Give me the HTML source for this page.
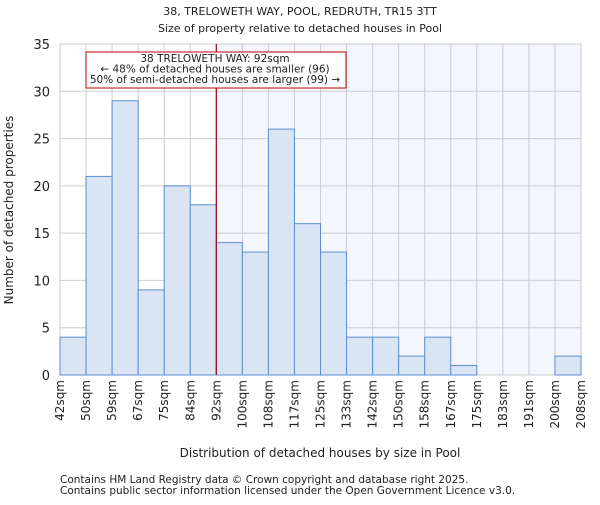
<!DOCTYPE html>
<html><head><meta charset="utf-8"><style>
body{margin:0;background:#fff}
svg text{font-family:"DejaVu Sans","Liberation Sans",sans-serif;fill:#222}
</style></head><body>
<svg id="chart" width="600" height="500" xmlns="http://www.w3.org/2000/svg">
<text x="300" y="15" text-anchor="middle" font-size="11">38, TRELOWETH WAY, POOL, REDRUTH, TR15 3TT</text>
<text x="300" y="32" text-anchor="middle" font-size="11">Size of property relative to detached houses in Pool</text>
<g id="plot"></g>
<text x="320" y="457" text-anchor="middle" font-size="12">Distribution of detached houses by size in Pool</text>
<text transform="translate(13,210) rotate(-90)" text-anchor="middle" font-size="12">Number of detached properties</text>
<text x="60" y="483" font-size="10.5" fill="#444">Contains HM Land Registry data © Crown copyright and database right 2025.</text>
<text x="60" y="494" font-size="10.5" fill="#444">Contains public sector information licensed under the Open Government Licence v3.0.</text>
</svg>
<script>
const categories=["42sqm","50sqm","59sqm","67sqm","75sqm","84sqm","92sqm","100sqm","108sqm","117sqm","125sqm","133sqm","142sqm","150sqm","158sqm","167sqm","175sqm","183sqm","191sqm","200sqm","208sqm"];
const counts=[4,21,29,9,20,18,14,13,26,16,13,4,4,2,4,1,0,0,0,2];
const yTicks=[0,5,10,15,20,25,30,35];
const markerIndex=6;
const X0=60,X1=581,Y0=375,Y1=44,YMAX=35;
const n=counts.length,bw=(X1-X0)/n;
const xs=i=>X0+i*bw, ys=v=>Y0-(v/YMAX)*(Y0-Y1);
const g=document.getElementById('plot');const NS="http://www.w3.org/2000/svg";
function mk(t,a,p){const e=document.createElementNS(NS,t);for(const k in a)e.setAttribute(k,a[k]);(p||g).appendChild(e);return e;}
let e=mk('rect',{x:xs(markerIndex),y:Y1,width:X1-xs(markerIndex),height:Y0-Y1,fill:'#f3f6fd'});


yTicks.forEach(t=>{let l=mk('line',{x1:X0,x2:X1,y1:ys(t),y2:ys(t),stroke:'#cccccc'});


let tx=mk('text',{x:X0-10,y:ys(t)+5,'text-anchor':'end','font-size':'13'});tx.textContent=t;

});
for(let i=0;i<=n;i++){let l=mk('line',{x1:xs(i),x2:xs(i),y1:Y1,y2:Y0,stroke:'#cccccc'});

}
counts.forEach((v,i)=>{if(v<=0)return;let r=mk('rect',{x:xs(i),y:ys(v),width:bw,height:Y0-ys(v),fill:'#dae5f4',stroke:'#5b8fd4','stroke-width':1});

});
categories.forEach((c,i)=>{let x=xs(i)+4,y=380;let t=mk('text',{x:x,y:y,'text-anchor':'end','font-size':'12',transform:`rotate(-90 ${x} ${y})`});t.textContent=c;

});
let ml=mk('line',{x1:xs(markerIndex),x2:xs(markerIndex),y1:Y1,y2:Y0,stroke:'#a00010','stroke-width':1.2});


let box=mk('rect',{x:86,y:52,width:260,height:36,fill:'#fff',stroke:'#c00000'});


["38 TRELOWETH WAY: 92sqm","← 48% of detached houses are smaller (96)","50% of semi-detached houses are larger (99) →"].forEach((s,k)=>{let t=mk('text',{x:215,y:62+k*10.5,'text-anchor':'middle','font-size':'10.5'});t.textContent=s;

});
</script>
</body></html>
